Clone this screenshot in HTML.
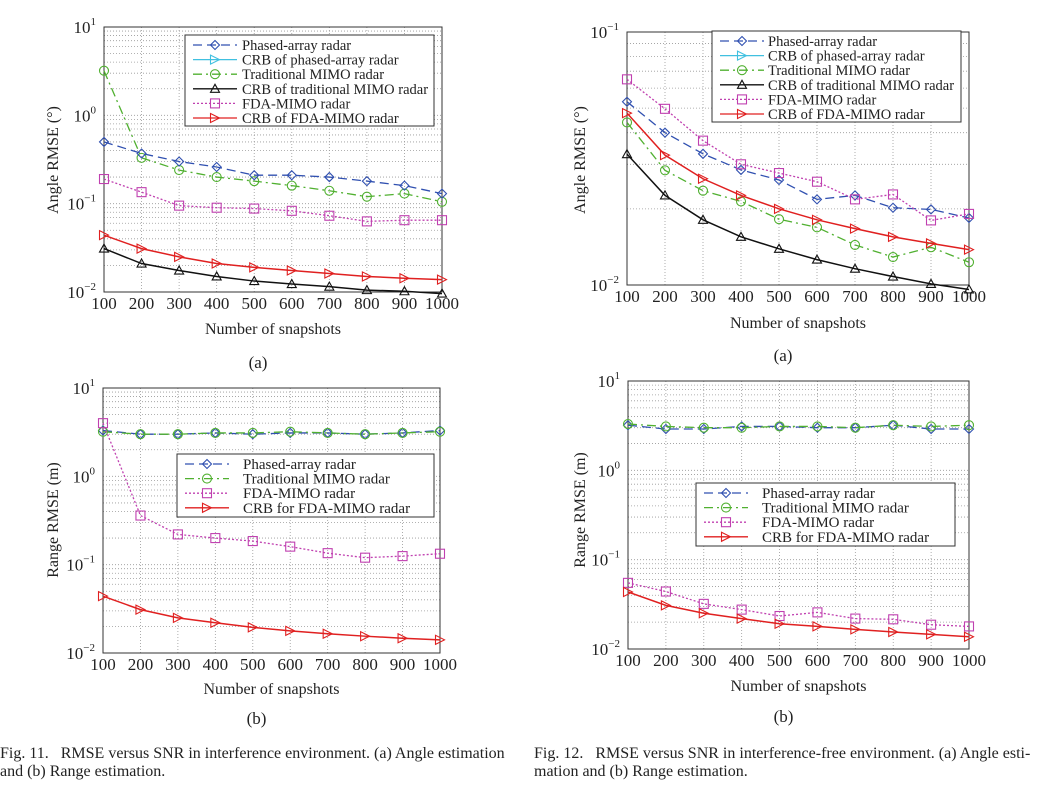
<!DOCTYPE html>
<html><head><meta charset="utf-8"><style>
html,body{margin:0;padding:0;background:#fff;}
svg{display:block;font-family:"Liberation Serif",serif;}
.cap{position:absolute;font-family:"Liberation Serif",serif;font-size:16px;color:#222;line-height:18px;white-space:nowrap;}
</style></head><body>
<div style="position:relative;width:1038px;height:787px;overflow:hidden">
<svg id="s" width="1038" height="787" viewBox="0 0 1038 787"></svg>
<div class="cap" style="left:0;top:745px">Fig. 11.&nbsp;&nbsp; RMSE versus SNR in interference environment. (a) Angle estimation<br>and (b) Range estimation.</div>
<div class="cap" style="left:534px;top:745px">Fig. 12.&nbsp;&nbsp; RMSE versus SNR in interference-free environment. (a) Angle esti-<br>mation and (b) Range estimation.</div>
</div>
<script>
const snapshots=[100,200,300,400,500,600,700,800,900,1000];
// Fig 11(a)
const a_phased=[0.5,0.37,0.3,0.26,0.21,0.21,0.2,0.18,0.16,0.13];
const a_trad=[3.2,0.33,0.24,0.2,0.18,0.16,0.14,0.12,0.13,0.105];
const a_fda=[0.19,0.135,0.095,0.09,0.088,0.083,0.073,0.063,0.065,0.065];
const a_crbFda=[0.044,0.031,0.025,0.021,0.019,0.0175,0.0162,0.015,0.0143,0.0138];
const a_crbTrad=[0.031,0.021,0.0175,0.015,0.0133,0.0123,0.0115,0.0105,0.0102,0.0096];
// Fig 12(a)
const b_phased=[0.053,0.040,0.033,0.0285,0.026,0.0218,0.0226,0.0202,0.0199,0.0184];
const b_fda=[0.065,0.0497,0.0372,0.030,0.0277,0.0256,0.0218,0.0228,0.018,0.0191];
const b_crbFda=[0.0478,0.0326,0.0263,0.0226,0.020,0.0181,0.0167,0.0155,0.0146,0.0138];
const b_trad=[0.0439,0.0284,0.0236,0.0214,0.0182,0.0169,0.0144,0.0129,0.0141,0.0123];
const b_crbTrad=[0.0329,0.0226,0.0181,0.0155,0.0139,0.0126,0.0116,0.0108,0.0101,0.0096];
// Fig 11(b)
const c_phased=[3.3,3.0,3.0,3.1,3.0,3.1,3.1,3.0,3.1,3.3];
const c_trad=[3.2,3.0,3.0,3.1,3.1,3.2,3.1,3.0,3.1,3.2];
const c_fda=[4.0,0.36,0.22,0.2,0.185,0.16,0.135,0.12,0.125,0.133];
const c_crbFda=[0.044,0.031,0.025,0.022,0.0195,0.0178,0.0165,0.0155,0.0147,0.0141];
// Fig 12(b)
const d_phased=[3.2,2.9,2.9,3.1,3.1,3.0,3.0,3.2,2.9,2.9];
const d_trad=[3.3,3.1,3.0,3.0,3.1,3.1,3.0,3.2,3.1,3.2];
const d_fda=[0.055,0.044,0.032,0.0276,0.0234,0.0257,0.0219,0.0215,0.0187,0.0179];
const d_crbFda=[0.0435,0.0308,0.0251,0.0219,0.0192,0.0179,0.0166,0.0155,0.0146,0.0137];
const xTicks=[100,200,300,400,500,600,700,800,900,1000];

const NS='http://www.w3.org/2000/svg';
const svg=document.getElementById('s');
function el(tag,attrs,parent){const e=document.createElementNS(NS,tag);for(const k in attrs)e.setAttribute(k,attrs[k]);(parent||svg).appendChild(e);return e;}

const ST={
 phased:{c:'#3050b0',dash:'9,5',m:'diamond',lbl:'Phased-array radar'},
 crbPhased:{c:'#40c0e0',dash:'',m:'tri',lbl:'CRB of phased-array radar'},
 trad:{c:'#50b030',dash:'9,4,2,4',m:'circle',lbl:'Traditional MIMO radar'},
 crbTrad:{c:'#111',dash:'',m:'up',lbl:'CRB of traditional MIMO radar'},
 fda:{c:'#c040b0',dash:'2,2',m:'square',lbl:'FDA-MIMO radar'},
 crbFda:{c:'#e02020',dash:'',m:'tri',lbl:'CRB of FDA-MIMO radar'}
};
function marker(g,type,x,y,c){
 const s=4.5;const a={fill:'none',stroke:c,'stroke-width':1.1};let m;
 if(type==='diamond')m=el('polygon',Object.assign({points:`${x},${y-s} ${x+s},${y} ${x},${y+s} ${x-s},${y}`},a),g);
 else if(type==='circle')m=el('circle',Object.assign({cx:x,cy:y,r:s},a),g);
 else if(type==='square')m=el('rect',Object.assign({x:x-s,y:y-s,width:2*s,height:2*s},a),g);
 else if(type==='tri')m=el('polygon',Object.assign({points:`${x-s},${y-s} ${x+s},${y} ${x-s},${y+s}`},a),g);
 else m=el('polygon',Object.assign({points:`${x},${y-s} ${x+s},${y+s-1} ${x-s},${y+s-1}`},a),g);
 
 
}
function panel(p){
 const g=el('g',{});
 
 
 const xs=v=>p.x0+(v-100)/900*(p.x1-p.x0);
 const ys=v=>p.y1-(Math.log10(v)-p.dmin)/(p.dmax-p.dmin)*(p.y1-p.y0);
 const grid=el('g',{stroke:'#999','stroke-width':0.8,'stroke-dasharray':'1,2'},g);
 
 
 for(const t of xTicks){if(t>100&&t<1000)el('line',{x1:xs(t),x2:xs(t),y1:p.y0,y2:p.y1},grid);}
 for(let d=p.dmin;d<p.dmax;d++){for(let k=1;k<=9;k++){const v=k*Math.pow(10,d);if(k===1&&d===p.dmin)continue;el('line',{x1:p.x0,x2:p.x1,y1:ys(v),y2:ys(v)},grid);}}
 const frame=el('rect',{x:p.x0,y:p.y0,width:p.x1-p.x0,height:p.y1-p.y0,fill:'none',stroke:'#333','stroke-width':1},g);
 
 
 for(const t of xTicks){const tx=el('text',{x:xs(t),y:p.y1+17,'text-anchor':'middle','font-size':17,fill:'#222'},g);tx.textContent=t;
  
  }
 for(let d=p.dmin;d<=p.dmax;d++){const tx=el('text',{x:p.x0-8,y:ys(Math.pow(10,d))+6,'text-anchor':'end','font-size':17,fill:'#222'},g);
  
  
  tx.textContent='10';const sp=el('tspan',{'font-size':11,dy:-8},tx);sp.textContent=String(d).replace('-','−');}
 const yl=el('text',{x:p.ylx,y:p.yly,'text-anchor':'middle','font-size':16,fill:'#222',transform:`rotate(-90 ${p.ylx} ${p.yly})`},g);yl.textContent=p.ylabel;
 
 
 const xl=el('text',{x:(p.x0+p.x1)/2,y:p.xly,'text-anchor':'middle','font-size':16,fill:'#222'},g);xl.textContent='Number of snapshots';
 
 
 const sl=el('text',{x:(p.x0+p.x1)/2-15,y:p.suby,'text-anchor':'middle','font-size':17,fill:'#222'},g);sl.textContent=p.sub;
 
 
 for(const s of p.series){const st=ST[s.k];
  const ln=el('polyline',{points:snapshots.map((x,i)=>xs(x)+','+ys(s.v[i])).join(' '),fill:'none',stroke:st.c,'stroke-width':st.dash===''?1.5:1.3,'stroke-dasharray':st.dash},g);
  
  
  snapshots.forEach((x,i)=>marker(g,st.m,xs(x),ys(s.v[i]),st.c));}
 const L=p.leg;
 const lg=el('g',{},g);
 
 
 el('rect',{x:L.x,y:L.y,width:L.w,height:L.h,fill:'#fff',stroke:'#333','stroke-width':1},lg);
 L.keys.forEach((k,i)=>{const st=ST[k];const cy=L.y+L.top+i*L.dy;
  const ent=el('g',{},lg);
  
  
  el('line',{x1:L.x+8,x2:L.x+52,y1:cy,y2:cy,stroke:st.c,'stroke-width':1.3,'stroke-dasharray':st.dash},ent);
  marker(ent,st.m,L.x+30,cy,st.c);
  const t=el('text',{x:L.x+L.tx,y:cy+5,'font-size':L.fs,fill:'#222'},ent);t.textContent=(p.crbFor&&k==='crbFda')?'CRB for FDA-MIMO radar':st.lbl;});
}
panel({name:'fig11a-angle-panel',x0:104,x1:442,y0:27,y1:292,dmin:-2,dmax:1,ylabel:'Angle RMSE (°)',ylx:58,yly:160,xly:334,suby:368,sub:'(a)',
 series:[{k:'trad',v:a_trad},{k:'phased',v:a_phased},{k:'fda',v:a_fda},{k:'crbTrad',v:a_crbTrad},{k:'crbFda',v:a_crbFda}],
 leg:{x:185,y:35,w:249,h:91,top:10,dy:14.6,tx:57,fs:14.5,keys:['phased','crbPhased','trad','crbTrad','fda','crbFda']}});
panel({name:'fig12a-angle-panel',x0:627,x1:969,y0:32,y1:285,dmin:-2,dmax:-1,ylabel:'Angle RMSE (°)',ylx:585,yly:160,xly:328,suby:361,sub:'(a)',
 series:[{k:'trad',v:b_trad},{k:'phased',v:b_phased},{k:'fda',v:b_fda},{k:'crbTrad',v:b_crbTrad},{k:'crbFda',v:b_crbFda}],
 leg:{x:712,y:31,w:249,h:91,top:10,dy:14.6,tx:56,fs:14.5,keys:['phased','crbPhased','trad','crbTrad','fda','crbFda']}});
panel({name:'fig11b-range-panel',x0:103,x1:440,y0:388,y1:653,dmin:-2,dmax:1,ylabel:'Range RMSE (m)',ylx:58,yly:520,xly:694,suby:724,sub:'(b)',crbFor:true,
 series:[{k:'phased',v:c_phased},{k:'trad',v:c_trad},{k:'fda',v:c_fda},{k:'crbFda',v:c_crbFda}],
 leg:{x:177,y:454,w:257,h:63,top:10,dy:14.6,tx:66,fs:15,keys:['phased','trad','fda','crbFda']}});
panel({name:'fig12b-range-panel',x0:628,x1:969,y0:381,y1:649,dmin:-2,dmax:1,ylabel:'Range RMSE (m)',ylx:585,yly:510,xly:691,suby:722,sub:'(b)',crbFor:true,
 series:[{k:'phased',v:d_phased},{k:'trad',v:d_trad},{k:'fda',v:d_fda},{k:'crbFda',v:d_crbFda}],
 leg:{x:696,y:483,w:259,h:63,top:10,dy:14.6,tx:66,fs:15,keys:['phased','trad','fda','crbFda']}});
</script>
</body></html>
